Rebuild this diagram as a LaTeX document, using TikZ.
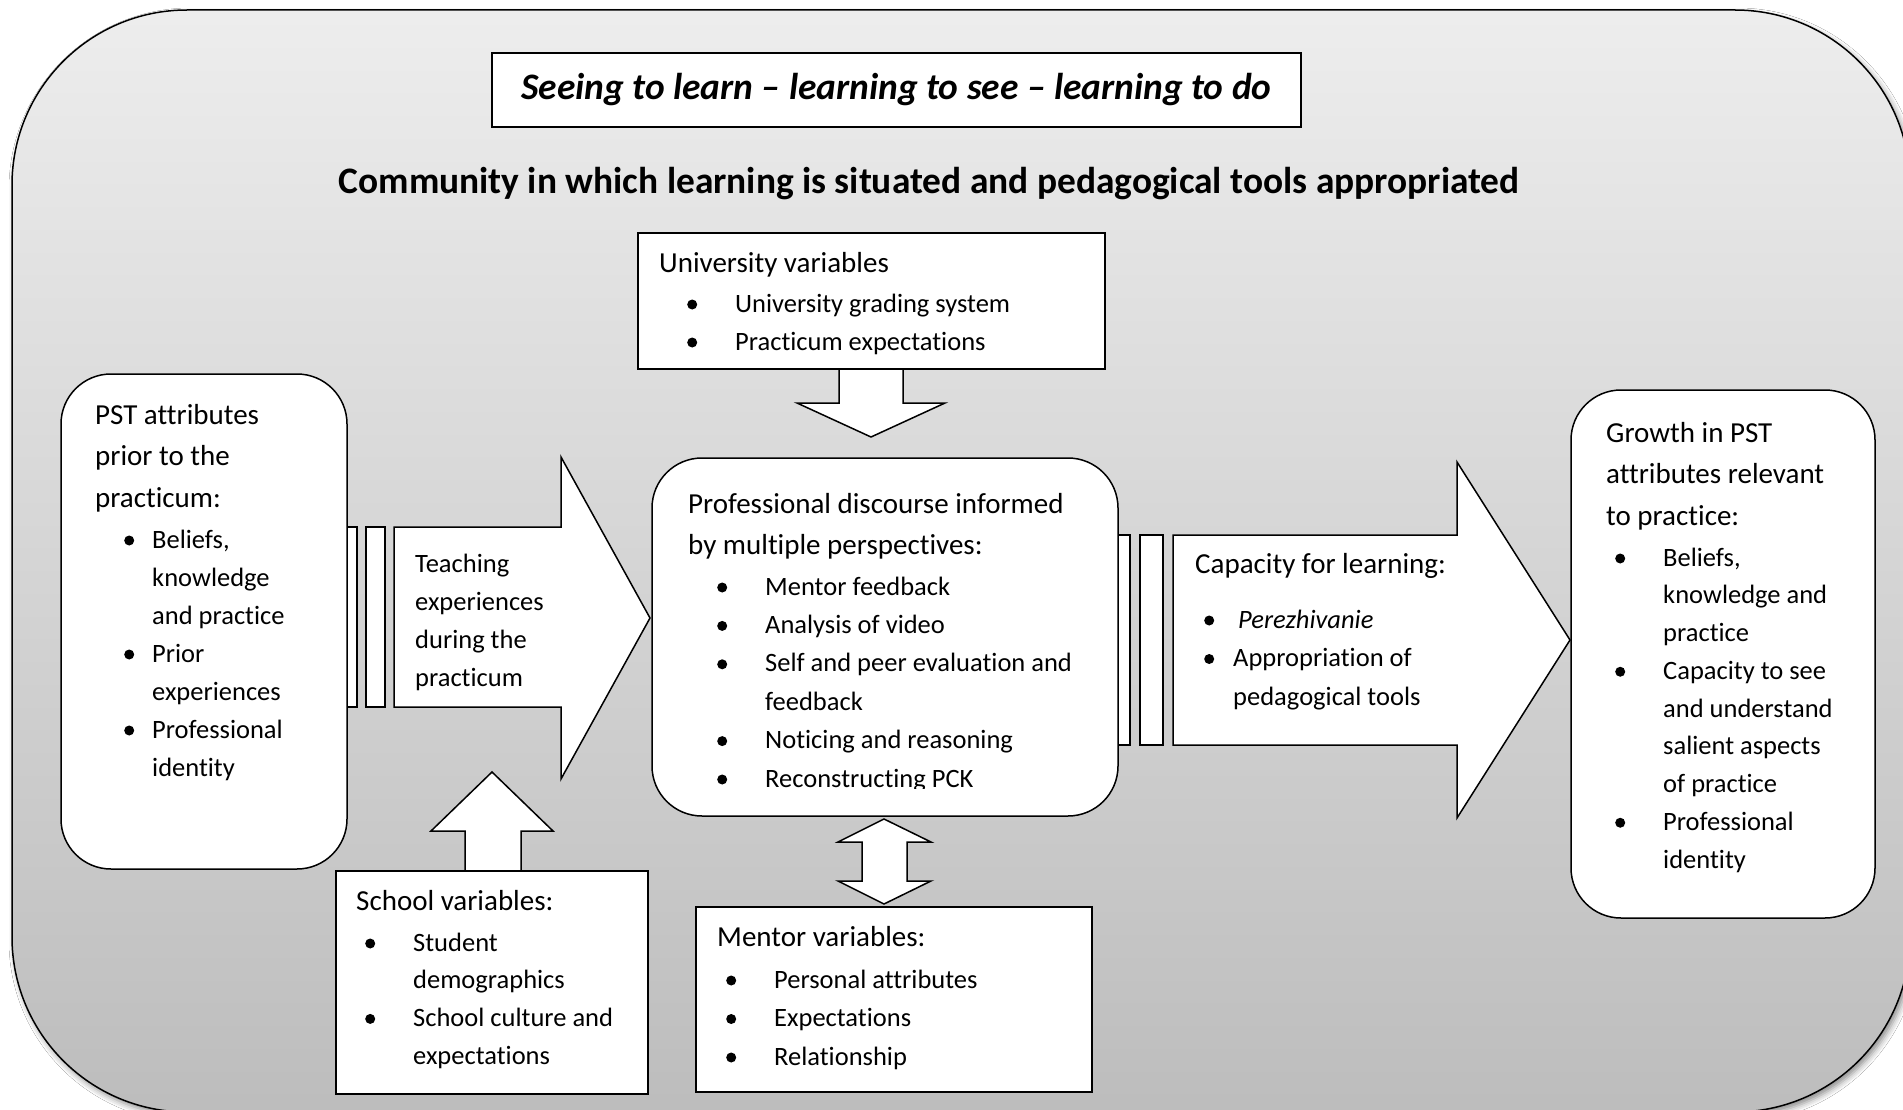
\documentclass[tikz,border=0pt]{standalone}
\usepackage{fontspec}
\setmainfont{Carlito}[Ligatures=NoCommon]
\usepackage{array}
\usetikzlibrary{shadows.blur}
\newcommand\mlines[1]{\begin{tabular}[t]{@{}l@{}}#1\end{tabular}}
\newcommand\blist[2]{\begin{tabular}[t]{@{}w{l}{#1}@{}l@{}}#2\end{tabular}}
\newcommand\bul{\tikz[x=1pt,y=1pt,baseline=0pt]{\useasboundingbox (0,0) rectangle (10,12.5);\fill[black] (5,7.5) circle[radius=5];}}
\begin{document}
\begin{tikzpicture}[x=1pt,y=-1pt,
  box/.style={draw=black, fill=white, line width=1.5pt, inner sep=0pt},
  rbox/.style={box, rounded corners=50pt},
  blockarrow/.style={draw=black, fill=white, line width=1.5pt, line join=miter},
  hdr/.style={anchor=base west, inner sep=0pt, font=\fontsize{29}{41.5}\selectfont},
  itm/.style={anchor=base west, inner sep=0pt, font=\fontsize{26.5}{38}\selectfont},
  ttl/.style={anchor=base, inner sep=0pt, font=\fontsize{37.4}{42}\selectfont\bfseries},
]
\useasboundingbox (0,0) rectangle (1903,1110);
\fill[white] (0,0) rectangle (1903,1110);
\clip (0,0) rectangle (1903,1110);

% community background
\path[draw=black, line width=1.5pt, top color=black!7, bottom color=black!26,
  rounded corners=175pt,
  blur shadow={shadow xshift=3pt, shadow yshift=-4pt, shadow blur radius=6pt, shadow opacity=45}]
  (12,10) rectangle (1910,1112);

% title
\node[box, minimum width=809pt, minimum height=74pt] (tbox) at (896.5,90) {};
\node[ttl, font=\fontsize{37.4}{42}\selectfont\bfseries\itshape] (title) at (896.5,100) {Seeing to learn – learning to see – learning to do};
\node[ttl] (sub) at (929,194) {Community in which learning is situated and pedagogical tools appropriated};

% university
\draw[blockarrow] (839,369) -- (839,403) -- (797,403) -- (871,437) -- (945,403) -- (903,403) -- (903,369) -- cycle;
\node[box, minimum width=467pt, minimum height=136pt] (univ) at (871.5,301) {};

% teaching arrow
\node[box, minimum width=10pt, minimum height=180pt] (ls1) at (352,617) {};
\node[box, minimum width=19pt, minimum height=180pt] (ls2) at (375.5,617) {};
\draw[blockarrow] (394,527) -- (561,527) -- (561,457) -- (650,618) -- (561,779) -- (561,707) -- (394,707) -- cycle;

% capacity arrow
\node[box, minimum width=12pt, minimum height=210pt] (rs1) at (1124,640) {};
\node[box, minimum width=23pt, minimum height=210pt] (rs2) at (1151.5,640) {};
\draw[blockarrow] (1173,535) -- (1457,535) -- (1457,462) -- (1570,640) -- (1457,818) -- (1457,745) -- (1173,745) -- cycle;

% boxes
\node[rbox, minimum width=286pt, minimum height=495pt] (pst) at (204,621.5) {};
\node[rbox, minimum width=466pt, minimum height=358pt] (disc) at (885,637) {};
\node[rbox, minimum width=304pt, minimum height=528pt] (growth) at (1723,654) {};

% school
\draw[blockarrow] (465,871) -- (465,831) -- (431,831) -- (492,772) -- (553,831) -- (521,831) -- (521,871) -- cycle;
\node[box, minimum width=312pt, minimum height=223pt] (school) at (492,982.5) {};

% mentor
\draw[blockarrow] (884,819) -- (931,842) -- (907,842) -- (907,881) -- (931,881) -- (884,904) -- (838,881) -- (862,881) -- (862,842) -- (838,842) -- cycle;
\node[box, minimum width=396pt, minimum height=185pt] (mentor) at (894,999.5) {};

% texts
\node[hdr] (univh) at (659,272) {University variables};
\node[itm] (univl) at (687,312) {\blist{48pt}{\bul & University grading system\\ \bul & Practicum expectations}};

\node[hdr] (psth) at (95,424) {\mlines{PST attributes\\prior to the\\practicum:}};
\node[itm] (pstl) at (124,548) {\blist{28pt}{\bul & Beliefs,\\ & knowledge\\ & and practice\\ \bul & Prior\\ & experiences\\ \bul & Professional\\ & identity}};

\node[itm] (teach) at (415,572) {\mlines{Teaching\\experiences\\during the\\practicum}};

\begin{scope}
\clip (652,458) rectangle (1118,788);
\node[hdr] (disch) at (688,513) {\mlines{Professional discourse informed\\by multiple perspectives:}};
\node[itm, font=\fontsize{26.5}{38.4}\selectfont] (discl) at (717,595) {\blist{48pt}{\bul & Mentor feedback\\ \bul & Analysis of video\\ \bul & Self and peer evaluation and\\ & feedback\\ \bul & Noticing and reasoning\\ \bul & Reconstructing PCK}};
\end{scope}

\node[hdr] (caph) at (1195,573) {Capacity for learning:};
\node[itm, font=\fontsize{26.5}{38.5}\selectfont] (capl) at (1204,628) {\blist{29pt}{\bul & \hspace{5pt}\textit{Perezhivanie}\\ \bul & Appropriation of\\ & pedagogical tools}};

\node[hdr] (growh) at (1606,442) {\mlines{Growth in PST\\attributes relevant\\to practice:}};
\node[itm, font=\fontsize{26.5}{37.75}\selectfont] (growl) at (1615,566) {\blist{48pt}{\bul & Beliefs,\\ & knowledge and\\ & practice\\ \bul & Capacity to see\\ & and understand\\ & salient aspects\\ & of practice\\ \bul & Professional\\ & identity}};

\node[hdr] (schoolh) at (356,910) {School variables:};
\node[itm, font=\fontsize{26.5}{37.7}\selectfont] (schooll) at (365,951) {\blist{48pt}{\bul & Student\\ & demographics\\ \bul & School culture and\\ & expectations}};

\node[hdr] (mentorh) at (717,946) {Mentor variables:};
\node[itm, font=\fontsize{26.5}{38.5}\selectfont] (mentorl) at (726,988) {\blist{48pt}{\bul & Personal attributes\\ \bul & Expectations\\ \bul & Relationship}};
\end{tikzpicture}
\end{document}
